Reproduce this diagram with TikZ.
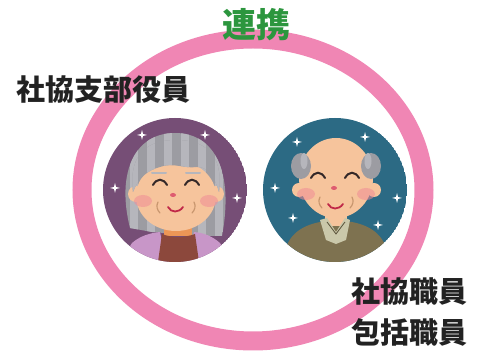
\documentclass[tikz,border=0pt]{standalone}
\usepackage{fontspec}
\newfontfamily\jpfont{Noto Sans CJK JP}
\definecolor{ringpink}{RGB}{240,134,180}
\definecolor{linkgreen}{RGB}{44,150,62}
\definecolor{textdark}{RGB}{34,34,34}
\definecolor{bgpurple}{RGB}{118,78,118}
\definecolor{bgteal}{RGB}{44,106,132}
\definecolor{skin}{RGB}{246,196,156}
\definecolor{hairgray}{RGB}{156,156,162}
\definecolor{hairlight}{RGB}{182,182,188}
\definecolor{blush}{RGB}{240,140,150}
\definecolor{nosepink}{RGB}{222,92,112}
\definecolor{lipred}{RGB}{192,40,72}
\definecolor{eyedark}{RGB}{52,40,40}
\definecolor{wrinkle}{RGB}{200,150,110}
\definecolor{neckorange}{RGB}{236,150,86}
\definecolor{shirtbrown}{RGB}{140,72,60}
\definecolor{cardlilac}{RGB}{200,150,200}
\definecolor{coatolive}{RGB}{126,114,80}
\definecolor{collarpale}{RGB}{202,200,170}
\tikzset{
  labeltext/.style={inner sep=0pt, text=textdark, font=\jpfont\bfseries\fontsize{29}{29}\selectfont},
  eyeline/.style={draw=eyedark, line width=2pt, line cap=round},
  mouthline/.style={draw=lipred, line width=1.8pt, line cap=round},
  wrinkleline/.style={draw=wrinkle, line width=1.2pt, line cap=round},
  cheek/.style={fill=blush, opacity=0.55},
  sparkle/.pic={\fill[white] (0,-5) -- (1,-1) -- (5,0) -- (1,1) -- (0,5) -- (-1,1) -- (-5,0) -- (-1,-1) -- cycle;}
}
\begin{document}
\begin{tikzpicture}[x=1pt,y=-1pt]
\useasboundingbox (0,0) rectangle (483,352);
\fill[white] (0,0) rectangle (483,352);

% the pink ring around both people
\draw[ringpink, line width=19pt] (253,190) ellipse [x radius=171, y radius=151];

% ---------- grandmother ----------
\begin{scope}
\clip (175,190) circle [radius=72];
\fill[bgpurple] (175,190) circle [radius=72];
\foreach \p in {(142,135),(205,135),(115,188),(237,198),(133,218),(218,225)}
  \pic at \p {sparkle};
% back hair
\begin{scope}
\clip (130,228) .. controls (116,172) and (135,133) .. (175,133) .. controls (215,133) and (234,172) .. (222,236) -- (200,236) -- (152,232) -- cycle;
\fill[hairgray] (110,120) rectangle (240,240);
\foreach \x in {130,147,164,181,198,215} \fill[hairlight] (\x,120) rectangle (\x+8,240);
\end{scope}
% clothes
\fill[cardlilac] (120,262) -- (132,243) .. controls (140,236) and (150,233) .. (160,232) -- (166,262) -- cycle;
\fill[cardlilac] (232,262) -- (220,243) .. controls (212,236) and (204,233) .. (194,232) -- (188,262) -- cycle;
\fill[neckorange] (164,222) rectangle (192,236);
\fill[shirtbrown] (162,234) .. controls (172,238) and (184,238) .. (195,234) -- (199,262) -- (158,262) -- cycle;
% ears and face
\fill[skin] (136,194) circle [radius=8];
\fill[skin] (216,194) circle [radius=8];
\fill[skin] (176,196) ellipse [x radius=40, y radius=35];
% bangs
\begin{scope}
\clip (133,192) .. controls (128,152) and (150,140) .. (176,140) .. controls (202,140) and (224,152) .. (219,192) .. controls (214,174) and (206,166) .. (196,167) .. controls (186,169) and (172,162) .. (160,167) .. controls (148,170) and (138,178) .. cycle;
\fill[hairgray] (120,130) rectangle (230,200);
\foreach \x in {130,147,164,181,198,215} \fill[hairlight] (\x,130) rectangle (\x+8,200);
\end{scope}
% features
\fill[cheek] (143,201) ellipse [x radius=9, y radius=6];
\fill[cheek] (209,201) ellipse [x radius=9, y radius=6];
\draw[hairlight, line width=2pt, line cap=round] (152,173) -- (166,173);
\draw[hairlight, line width=2pt, line cap=round] (186,173) -- (200,173);
\draw[eyeline] (153,185) .. controls (157,178) and (163,178) .. (167,185);
\draw[eyeline] (185,185) .. controls (189,178) and (195,178) .. (199,185);
\fill[nosepink] (173,195) ellipse [x radius=3, y radius=2];
\draw[mouthline] (168,207) .. controls (171,213) and (179,213) .. (183,207);
\draw[wrinkleline] (158,202) .. controls (156,206) and (157,210) .. (160,213);
\draw[wrinkleline] (194,202) .. controls (196,206) and (195,210) .. (192,213);
\end{scope}

% ---------- grandfather ----------
\begin{scope}
\clip (335,190) circle [radius=72];
\fill[bgteal] (335,190) circle [radius=72];
\foreach \p in {(297,142),(365,137),(275,188),(397,198),(293,218),(378,225)}
  \pic at \p {sparkle};
% coat and collar
\fill[coatolive] (283,262) .. controls (285,236) and (300,226) .. (320,222) -- (352,222) .. controls (372,226) and (387,236) .. (389,262) -- cycle;
\fill[skin] (325,208) rectangle (347,226);
\fill[collarpale] (320,220) -- (327,218) -- (336,232) -- (345,218) -- (350,220) -- (346,240) -- (336,244) -- (326,240) -- cycle;
\draw[coatolive!70!black, line width=0.8pt] (327,222) -- (336,234) -- (345,222);
% ears, head, side hair
\fill[skin] (299,190) circle [radius=7];
\fill[skin] (374,190) circle [radius=7];
\fill[skin] (336,178) ellipse [x radius=37, y radius=40];
\fill[hairgray] (301,166) ellipse [x radius=10, y radius=13];
\fill[hairgray] (371,166) ellipse [x radius=10, y radius=13];
\fill[hairlight] (304,161) ellipse [x radius=3.5, y radius=8];
\fill[hairlight] (368,161) ellipse [x radius=3.5, y radius=8];
% features
\fill[cheek] (306,194) ellipse [x radius=9, y radius=6];
\fill[cheek] (366,194) ellipse [x radius=9, y radius=6];
\draw[eyeline] (311,178) .. controls (315,171) and (321,171) .. (325,178);
\draw[eyeline] (345,178) .. controls (349,171) and (355,171) .. (359,178);
\fill[nosepink] (334,188) ellipse [x radius=3, y radius=2];
\draw[mouthline] (328,204) .. controls (331,210) and (339,210) .. (343,204);
\draw[wrinkleline] (320,197) .. controls (318,201) and (319,205) .. (322,208);
\draw[wrinkleline] (352,197) .. controls (354,201) and (353,205) .. (350,208);
\end{scope}

% ---------- labels ----------
\node[labeltext, text=linkgreen, font=\jpfont\bfseries\fontsize{34}{34}\selectfont] (renkei) at (256,25) {連携};
\node[labeltext] (shibu) at (103.5,89.5) {社協支部役員};
\node[labeltext] (shokuin) at (409.5,291.5) {社協職員};
\node[labeltext] (houkatsu) at (409.5,332.5) {包括職員};
\end{tikzpicture}
\end{document}
